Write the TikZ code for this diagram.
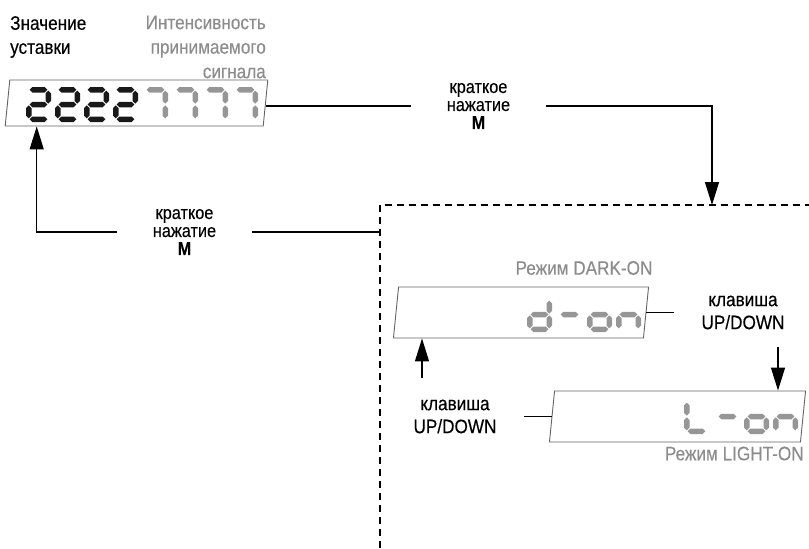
\documentclass[tikz,border=0pt]{standalone}
\usepackage{fontspec}
\setmainfont[FakeStretch=0.88,FakeBold=0.3]{Liberation Sans}
\usetikzlibrary{arrows.meta,positioning}
\definecolor{segdark}{RGB}{25,25,25}
\definecolor{seggray}{RGB}{150,150,150}
\definecolor{textgray}{RGB}{140,140,140}
\definecolor{boxgray}{RGB}{100,100,100}
% seven segment digit: width, height, thickness, gap
\def\dw{25}
\def\dh{35}
\def\dt{5.5}
\def\dg{0.8}
\newcommand\hseg[1]{({\dt/2+\dg},{#1}) -- ({\dt+\dg},{#1-\dt/2}) -- ({\dw-\dt-\dg},{#1-\dt/2}) -- ({\dw-\dt/2-\dg},{#1}) -- ({\dw-\dt-\dg},{#1+\dt/2}) -- ({\dt+\dg},{#1+\dt/2}) -- cycle}
\newcommand\vseg[3]{({#1},{#2+\dg}) -- ({#1+\dt/2},{#2+\dt/2+\dg}) -- ({#1+\dt/2},{#3-\dt/2-\dg}) -- ({#1},{#3-\dg}) -- ({#1-\dt/2},{#3-\dt/2-\dg}) -- ({#1-\dt/2},{#2+\dt/2+\dg}) -- cycle}
\tikzset{
  seg a/.pic={\fill \hseg{\dt/2};},
  seg g/.pic={\fill \hseg{\dh/2};},
  seg d/.pic={\fill \hseg{\dh-\dt/2};},
  seg f/.pic={\fill \vseg{\dt/2}{\dt/2}{\dh/2};},
  seg b/.pic={\fill \vseg{\dw-\dt/2}{\dt/2}{\dh/2};},
  seg e/.pic={\fill \vseg{\dt/2}{\dh/2}{\dh-\dt/2};},
  seg c/.pic={\fill \vseg{\dw-\dt/2}{\dh/2}{\dh-\dt/2};}
}
% one character: x, y (top left), segments, colour
\newcommand\lcdchar[4]{%
  \begin{scope}[shift={(#1,#2)},xslant=.13,#4]
    \foreach \s in {#3} \pic at (0,0) {seg \s};
  \end{scope}}

\begin{document}
\begin{tikzpicture}[x=1pt,y=-1pt,
    conn/.style={line width=1.3pt},
    arr/.style={conn,-{Triangle[length=23pt,width=14pt]}},
    lcd/.style={draw=boxgray,line width=.9pt,xslant=.1,inner sep=0pt},
    press/.style={align=center,inner sep=0pt,minimum width=134pt,font=\fontsize{18.5}{18}\selectfont},
    keylbl/.style={align=center,inner xsep=27pt,inner ysep=0pt,font=\fontsize{19.5}{23}\selectfont},
    graylbl/.style={text=textgray,inner sep=0pt,font=\fontsize{19.5}{24.5}\selectfont},
    modeframe/.style={line width=1.3pt,dash pattern=on 7pt off 5pt}]
  \clip (0,0) rectangle (809,549);

  %-----------------------------------------------
  % main display
  \node[lcd,minimum width=258pt,minimum height=46pt] (setv) at (136.5,103) {};
  \foreach \x in {26,55,84,113}
    \lcdchar{\x}{87}{a,b,g,e,d}{segdark};
  \foreach \x in {143,173,203,233}
    \lcdchar{\x}{87}{a,b,c}{seggray};
  \node[align=left,anchor=west,inner sep=0pt,font=\fontsize{19.5}{24}\selectfont] (setlbl) at (10,37) {Значение\\уставки};
  \node[graylbl,align=right,anchor=east] (siglbl) at (266,47) {Интенсивность\\принимаемого\\сигнала};

  %-----------------------------------------------
  % mode frame
  \coordinate (modetop) at (712,205);
  \coordinate (modeleft) at (380,232);
  \draw[modeframe] (380,560) |- (820,205);

  \node[lcd,minimum width=250pt,minimum height=51pt] (dmode) at (521,312.5) {};
  \lcdchar{527}{297}{b,c,d,e,g}{seggray};
  \lcdchar{557}{297}{g}{seggray};
  \lcdchar{587}{297}{c,d,e,g}{seggray};
  \lcdchar{616}{297}{c,e,g}{seggray};
  \node[graylbl] (dlbl) at (584,268) {Режим DARK-ON};

  \node[lcd,minimum width=251pt,minimum height=51pt] (lmode) at (677.5,416.5) {};
  \lcdchar{684}{399}{f,e,d}{seggray};
  \lcdchar{715}{399}{g}{seggray};
  \lcdchar{744}{399}{c,d,e,g}{seggray};
  \lcdchar{773}{399}{c,e,g}{seggray};
  \node[graylbl,below=4pt of lmode.south east,anchor=north east,xshift=3pt] (llbl) {Режим LIGHT-ON};

  %-----------------------------------------------
  % key labels
  \node[press] (m1) at (478.5,106) {краткое\\нажатие\\\textbf{M}};
  \node[press] (m2) at (184.5,232) {краткое\\нажатие\\\textbf{M}};
  \node[keylbl] (k1) at (743,312.5) {клавиша\\UP/DOWN};
  \node[keylbl] (k2) at (455,416.5) {клавиша\\UP/DOWN};
  \coordinate (kdn) at (778,347);
  \coordinate (kup) at (422,378);

  % connectors
  \draw[conn] (setv.east |- m1.west) -- (m1.west);
  \draw[arr] (m1.east) -| (modetop);
  \draw[conn] (modeleft) -- (m2.east);
  \draw[arr] (m2.west) -| ([xshift=32pt]setv.south west);
  \draw[conn] (dmode.east) -- (k1.west);
  \draw[arr] (kdn) -- (kdn |- lmode.north);
  \draw[conn] (k2.east) -- (lmode.west);
  \draw[arr] (kup) -- (kup |- dmode.south);
\end{tikzpicture}
\end{document}
